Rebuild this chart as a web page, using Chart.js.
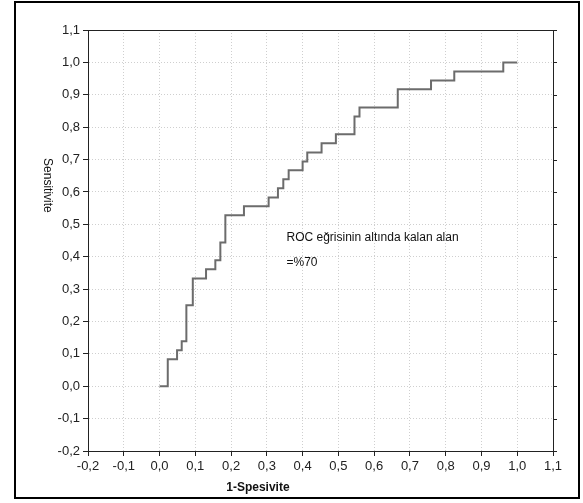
<!DOCTYPE html>
<html>
<head>
<meta charset="utf-8">
<script src="https://cdn.jsdelivr.net/npm/chart.js@4.4.1/dist/chart.umd.min.js"></script>
<style>
  html, body { margin: 0; padding: 0; background: #fff; }
  #wrap { position: relative; width: 583px; height: 503px; }
</style>
</head>
<body>
<div id="wrap"><canvas id="rocChart" width="583" height="503"></canvas></div>
<script>
// 1-Spesivite (x) and Sensitivite (y) corners of the ROC step curve
const fprValues = [0, 0.023, 0.049, 0.062, 0.075, 0.093, 0.13, 0.156, 0.17, 0.184, 0.236, 0.305, 0.331, 0.346, 0.361, 0.40, 0.413, 0.453, 0.493, 0.545, 0.559, 0.666, 0.759, 0.824, 0.961, 1.0];
const tprValues = [0, 0.083, 0.111, 0.139, 0.25, 0.333, 0.361, 0.389, 0.444, 0.528, 0.556, 0.583, 0.611, 0.639, 0.667, 0.694, 0.722, 0.75, 0.778, 0.833, 0.861, 0.917, 0.944, 0.972, 1.0, 1.0];

const axisMin = -0.2;
const axisMax = 1.1;
const axisStep = 0.1;

const xTitle = '1-Spesivite';
const yTitle = 'Sensitivite';
const noteLines = ['ROC eğrisinin altında kalan alan', '=%70'];

const points = fprValues.map((x, i) => ({ x: x, y: tprValues[i] }));

function fmtTick(v) {
    if (Math.abs(v) < 1e-9) v = 0;
    return v.toFixed(1).replace('.', ',');
}

// frame, plot box, axis titles and the note
const decorPlugin = {
    id: 'decor',
    afterDraw(chart) {
        const ctx = chart.ctx;
        const a = chart.chartArea;
        const xs = chart.scales.x, ys = chart.scales.y;
        ctx.save();
        // outer frame
        ctx.strokeStyle = '#000';
        ctx.lineWidth = 2;
        ctx.strokeRect(15, 2, 564, 496);
        // plot box
        ctx.lineWidth = 1;
        ctx.strokeStyle = '#222';
        ctx.strokeRect(Math.round(a.left) + 0.5, Math.round(a.top) + 0.5, Math.round(a.right - a.left), Math.round(a.bottom - a.top));
        // right-side ticks
        ys.ticks.forEach(t => {
            const py = Math.round(ys.getPixelForValue(t.value)) + 0.5;
            ctx.beginPath();
            ctx.moveTo(a.right, py);
            ctx.lineTo(a.right + 4, py);
            ctx.stroke();
        });
        // axis titles
        ctx.fillStyle = '#111';
        ctx.font = 'bold 12px "Liberation Sans", Arial, sans-serif';
        ctx.textAlign = 'center';
        ctx.textBaseline = 'middle';
        ctx.fillText(xTitle, xs.getPixelForValue(0.275), 488);
        ctx.translate(47, ys.getPixelForValue(0.62));
        ctx.rotate(Math.PI / 2);
        ctx.font = '12px "Liberation Sans", Arial, sans-serif';
        ctx.fillText(yTitle, 0, 0);
        ctx.restore();
        // note
        ctx.save();
        ctx.fillStyle = '#111';
        ctx.font = '12px "Liberation Sans", Arial, sans-serif';
        ctx.textAlign = 'left';
        ctx.textBaseline = 'middle';
        const nx = xs.getPixelForValue(0.355);
        const ny = ys.getPixelForValue(0.46);
        ctx.fillText(noteLines[0], nx, ny);
        ctx.fillText(noteLines[1], nx, ny + 25);
        ctx.restore();
    }
};

const gridStyle = {
    color: '#cfcfcf',
    lineWidth: 1,
    tickColor: '#222',
    tickLength: 5,
    drawTicks: true
};

new Chart(document.getElementById('rocChart').getContext('2d'), {
    type: 'line',
    data: {
        datasets: [{
            data: points,
            stepped: true,
            borderColor: '#6c6c6c',
            borderWidth: 2,
            pointRadius: 0,
            fill: false
        }]
    },
    options: {
        responsive: false,
        animation: false,
        layout: { padding: { left: 0, right: 30, top: 30, bottom: 0 } },
        plugins: { legend: { display: false }, tooltip: { enabled: false } },
        scales: {
            x: {
                type: 'linear',
                min: axisMin, max: axisMax,
                grid: gridStyle,
                border: { display: true, color: '#222', width: 1, dash: [1, 2] },
                ticks: { stepSize: axisStep, color: '#222', padding: 3, maxRotation: 0, autoSkip: false,
                         font: { family: '"Liberation Sans", Arial, sans-serif', size: 13 }, callback: fmtTick },
                afterFit: (s) => { s.height = 52; }
            },
            y: {
                type: 'linear',
                min: axisMin, max: axisMax,
                grid: gridStyle,
                border: { display: true, color: '#222', width: 1, dash: [1, 2] },
                ticks: { stepSize: axisStep, color: '#222', padding: 3, autoSkip: false,
                         font: { family: '"Liberation Sans", Arial, sans-serif', size: 13 }, callback: fmtTick },
                afterFit: (s) => { s.width = 88; }
            }
        }
    },
    plugins: [decorPlugin]
});
</script>
</body>
</html>
